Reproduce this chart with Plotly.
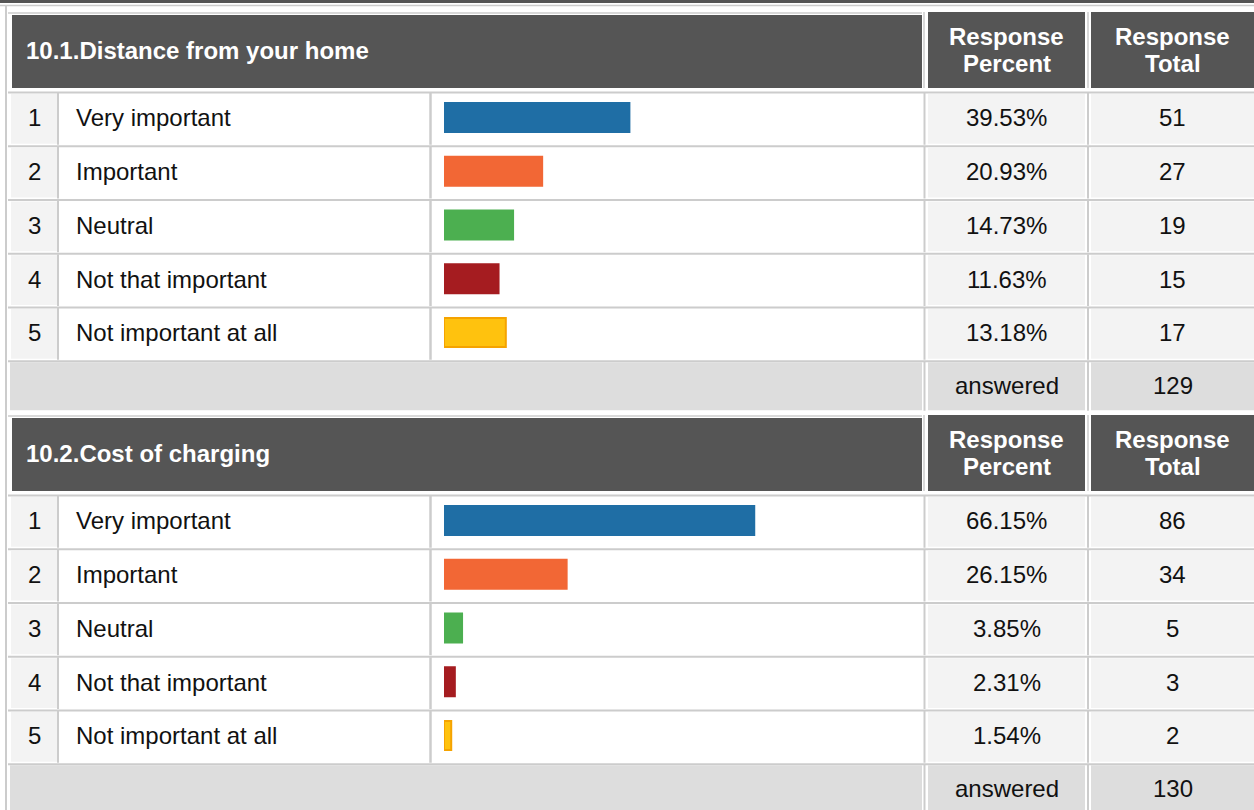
import plotly.graph_objects as go

# ---------------- data ----------------
titles = ["10.1.Distance from your home", "10.2.Cost of charging"]
labels = ["Very important", "Important", "Neutral", "Not that important", "Not important at all"]
pct_home = [39.53, 20.93, 14.73, 11.63, 13.18]
tot_home = [51, 27, 19, 15, 17]
pct_cost = [66.15, 26.15, 3.85, 2.31, 1.54]
tot_cost = [86, 34, 5, 3, 2]
answered = [129, 130]
bar_colors = ["#1f6ea5", "#f26735", "#4caf50", "#a51c20", "#ffc20e"]
bar_lines = ["#1f6ea5", "#f26735", "#4caf50", "#a51c20", "#f5a300"]

pcts = [pct_home, pct_cost]
tots = [tot_home, tot_cost]

# ---------------- layout constants ----------------
W, H = 1254, 810
SEC_DY = 403
ROW_TOP0 = 92
ROW_H = 53.75
DARK = "#555555"
LIGHT = "#f3f3f3"
ANS = "#dddddd"
LINE = "#cccccc"
FONT = "Liberation Sans, Arial, sans-serif"
FS = 24

COL_NUM = (11, 57)
COL_LAB = (59, 429)
COL_BAR = (432, 922)
COL_PCT = (928, 1085)
COL_TOT = (1091, 1254)
BAR_X0, BAR_X1 = 444, 913  # pixel span of 0..100 %

fig = go.Figure()
shapes = []
annotations = []


def rect(x0, x1, y0, y1, color):
    shapes.append(dict(type="rect", xref="x", yref="y", x0=x0, x1=x1, y0=y0, y1=y1,
                       fillcolor=color, line=dict(width=0), layer="below"))


def hline(y, x0, x1, color=LINE, w=2):
    shapes.append(dict(type="line", xref="x", yref="y", x0=x0, x1=x1, y0=y, y1=y,
                       line=dict(color=color, width=w), layer="below"))


def vline(x, y0, y1, color=LINE, w=2):
    shapes.append(dict(type="line", xref="x", yref="y", x0=x, x1=x, y0=y0, y1=y1,
                       line=dict(color=color, width=w), layer="below"))


def text(x, y, s, anchor="center", color="#111111", bold=False):
    annotations.append(dict(xref="x", yref="y", x=x, y=y, text=f"<b>{s}</b>" if bold else s,
                            showarrow=False, xanchor=anchor, yanchor="middle",
                            font=dict(family=FONT, size=FS, color=color)))


# top frame
rect(0, W, 0, 3, DARK)
hline(5.5, 0, W, LINE, 1.5)
vline(6, 6, H, LINE, 2)

for s in range(2):
    dy = s * SEC_DY
    # header
    hline(13 + dy, 8, COL_BAR[1], LINE, 1.5)
    rect(12, COL_BAR[1], 15 + dy, 88 + dy, DARK)
    rect(COL_PCT[0], COL_PCT[1], 12 + dy, 88 + dy, DARK)
    rect(COL_TOT[0], COL_TOT[1], 12 + dy, 88 + dy, DARK)
    vline(924, 12 + dy, 88 + dy, LINE, 1.5)
    vline(1088, 12 + dy, 88 + dy, LINE, 1.5)
    text(24, 50.5 + dy, titles[s], "left", "white", True)
    pc = (COL_PCT[0] + COL_PCT[1]) / 2
    tc = (COL_TOT[0] + COL_TOT[1]) / 2
    text(pc, 36.5 + dy, "Response", "center", "white", True)
    text(pc, 63.5 + dy, "Percent", "center", "white", True)
    text(tc, 36.5 + dy, "Response", "center", "white", True)
    text(tc, 63.5 + dy, "Total", "center", "white", True)

    # rows
    for k in range(len(labels)):
        top = ROW_TOP0 + ROW_H * k + dy
        bot = top + ROW_H
        hline(top + 0.5, 8, W, LINE, 2)
        rect(COL_NUM[0], COL_NUM[1], top + 2, bot - 2, LIGHT)
        rect(COL_PCT[0], COL_PCT[1], top + 2, bot - 2, LIGHT)
        rect(COL_TOT[0], COL_TOT[1], top + 2, bot - 2, LIGHT)
        vline(58, top + 1, bot - 1, LINE, 2)
        vline(430.5, top + 1, bot - 1, LINE, 2.5)
        vline(924.5, top + 1, bot - 1, LINE, 2)
        vline(1088, top + 1, bot - 1, LINE, 2)
        cy = top + ROW_H / 2 - 1
        text(34, cy, str(k + 1))
        text(74, cy, labels[k], "left")
        text(pc, cy, f"{pcts[s][k]:.2f}%")
        text(tc, cy, str(tots[s][k]))

    # answered row
    top = ROW_TOP0 + ROW_H * len(labels) + dy
    hline(top + 0.5, 8, W, LINE, 2)
    rect(10, COL_BAR[1], top + 1.5, top + 49.5, ANS)
    rect(COL_PCT[0], COL_PCT[1], top + 1.5, top + 49.5, ANS)
    rect(COL_TOT[0], COL_TOT[1], top + 1.5, top + 49.5, ANS)
    vline(924.5, top + 1, top + 50, LINE, 2)
    vline(1088, top + 1, top + 50, LINE, 2)
    text(pc, top + 25, "answered")
    text(tc, top + 25, str(answered[s]))

    # bars (own axes, 0-100 %)
    xa = "x" + str(s + 2)
    ya = "y" + str(s + 2)
    fig.add_trace(go.Bar(
        x=pcts[s], y=list(range(len(labels))), orientation="h",
        marker=dict(color=bar_colors, line=dict(color=bar_lines, width=2)),
        width=0.54, xaxis=xa, yaxis=ya, hoverinfo="skip", showlegend=False))
    ytop = ROW_TOP0 - 1.4 + dy
    ybot = ytop + ROW_H * len(labels)
    fig.layout["xaxis" + str(s + 2)] = dict(domain=[BAR_X0 / W, BAR_X1 / W], range=[0, 100],
                                          visible=False, fixedrange=True)
    fig.layout["yaxis" + str(s + 2)] = dict(domain=[1 - ybot / H, 1 - ytop / H],
                                          range=[len(labels) - 0.5, -0.5], visible=False,
                                          fixedrange=True)

fig.update_layout(
    width=W, height=H,
    margin=dict(l=0, r=0, t=0, b=0),
    paper_bgcolor="white",
    plot_bgcolor="rgba(0,0,0,0)",
    xaxis=dict(domain=[0, 1], range=[0, W], visible=False, fixedrange=True),
    yaxis=dict(domain=[0, 1], range=[H, 0], visible=False, fixedrange=True),
    shapes=shapes,
    annotations=annotations,
    showlegend=False,
)

fig.write_html("out.html", config={"displayModeBar": False},
               post_script="document.body.style.margin='0';document.body.style.overflow='hidden';")
